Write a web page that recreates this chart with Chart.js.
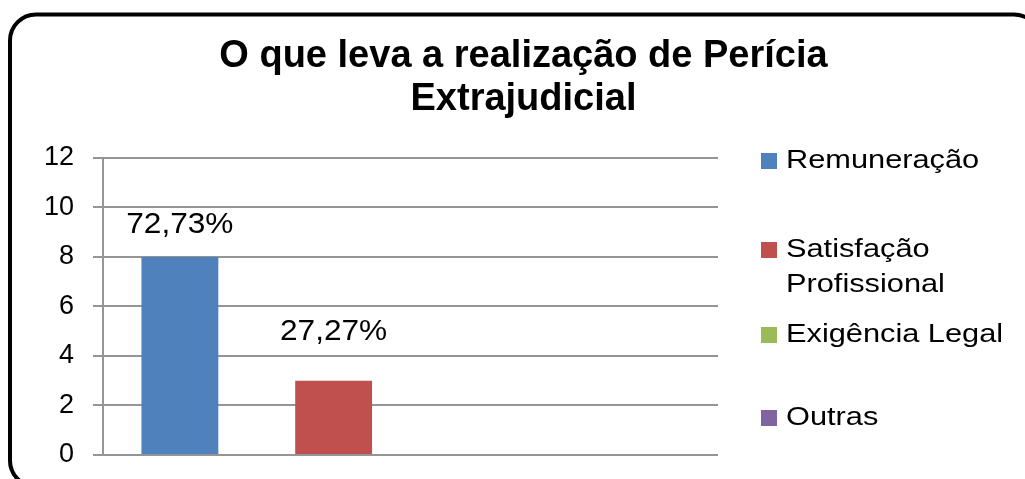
<!DOCTYPE html>
<html>
<head>
<meta charset="utf-8">
<script src="https://cdn.jsdelivr.net/npm/chart.js@4"></script>
<style>
  html, body { margin: 0; padding: 0; background: #ffffff; }
  #wrap { position: relative; width: 1025px; height: 479px; }
</style>
</head>
<body>
<div id="wrap"><canvas id="chart"></canvas></div>
<script>
// Chart data
const categories = ['Remuneração', 'Satisfação Profissional', 'Exigência Legal', 'Outras'];
const legendLines = [['Remuneração'], ['Satisfação', 'Profissional'], ['Exigência Legal'], ['Outras']];
const counts = [8, 3, 0, 0];
const barColors = ['#4F81BD', '#C0504D', '#9BBB59', '#8064A2'];
const yTicks = [0, 2, 4, 6, 8, 10, 12];

const total = counts.reduce((a, b) => a + b, 0);
const FONT = '"Liberation Sans", Arial, sans-serif';

// rounded frame round the whole chart
const framePlugin = {
    id: 'frame',
    beforeDraw(chart) {
        const ctx = chart.ctx;
        ctx.save();
        ctx.fillStyle = '#ffffff';
        ctx.fillRect(0, 0, chart.width, chart.height);
        ctx.beginPath();
        ctx.roundRect(10, 14.5, 1030, 472, 26);
        ctx.lineWidth = 4;
        ctx.strokeStyle = '#000000';
        ctx.stroke();
        ctx.restore();
    }
};

// percentage labels above the bars
const valueLabels = {
    id: 'valueLabels',
    afterDatasetsDraw(chart, args, opts) {
        const ctx = chart.ctx;
        const meta = chart.getDatasetMeta(0);
        ctx.save();
        ctx.font = '29px ' + FONT;
        ctx.fillStyle = '#000000';
        ctx.textAlign = 'center';
        ctx.textBaseline = 'middle';
        meta.data.forEach((bar, i) => {
            const v = counts[i];
            if (!v) return;
            const txt = (v / total * 100).toFixed(2).replace('.', ',') + '%';
            ctx.save();
            ctx.translate(bar.x, bar.y - opts.offsets[i]);
            ctx.scale(1.09, 1);
            ctx.fillText(txt, 0, 0);
            ctx.restore();
        });
        ctx.restore();
    }
};

// Excel style legend on the right
const sideLegend = {
    id: 'sideLegend',
    afterDraw(chart, args, opts) {
        const ctx = chart.ctx;
        ctx.save();
        ctx.font = '25px ' + FONT;
        ctx.textBaseline = 'middle';
        ctx.textAlign = 'left';
        legendLines.forEach((lines, i) => {
            const y = opts.rows[i];
            ctx.fillStyle = barColors[i];
            ctx.fillRect(opts.x, y - 8, 16, 16);
            ctx.fillStyle = '#000000';
            lines.forEach((line, j) => {
                ctx.save();
                ctx.translate(opts.x + 25, y + j * 35);
                ctx.scale(1.23, 1);
                ctx.fillText(line, 0, 0);
                ctx.restore();
            });
        });
        ctx.restore();
    }
};

new Chart(document.getElementById('chart'), {
    type: 'bar',
    data: {
        labels: categories,
        datasets: [{
            label: 'Motivo',
            data: counts,
            backgroundColor: barColors,
            borderWidth: 0,
            barPercentage: 0.5,
            categoryPercentage: 1
        }]
    },
    options: {
        responsive: true,
        maintainAspectRatio: false,
        animation: false,
        layout: {
            padding: { top: 0, left: 22, right: 0, bottom: 24 }
        },
        scales: {
            x: {
                display: false
            },
            y: {
                min: 0,
                max: 12,
                afterBuildTicks(scale) {
                    scale.ticks = yTicks.map(v => ({ value: v }));
                },
                afterFit(scale) {
                    scale.width = 81;
                    // the label padding would otherwise push the plot up
                    scale.paddingTop = 0;
                    scale.paddingBottom = 0;
                },
                grid: {
                    color: '#959595',
                    lineWidth: 2,
                    tickLength: 10
                },
                border: { color: '#959595', width: 2 },
                ticks: {
                    color: '#000000',
                    padding: 19,
                    font: { family: FONT, size: 27 }
                }
            },
            // empty right axis: keeps room for the legend
            legendSpace: {
                position: 'right',
                min: 0,
                max: 12,
                grid: { display: false },
                border: { display: false },
                ticks: { display: false },
                afterFit(scale) {
                    scale.width = 307;
                    scale.paddingTop = 0;
                    scale.paddingBottom = 0;
                }
            }
        },
        plugins: {
            legend: { display: false },
            tooltip: { enabled: false },
            title: {
                display: true,
                text: ['O que leva a realização de Perícia', 'Extrajudicial'],
                color: '#000000',
                font: { family: FONT, size: 38, weight: 'bold', lineHeight: 1.13 },
                padding: { top: 35.5, bottom: 36.5 }
            },
            valueLabels: { offsets: [32, 49, 0, 0] },
            sideLegend: { x: 761, rows: [161, 250, 335, 418] }
        }
    },
    plugins: [framePlugin, valueLabels, sideLegend]
});
</script>
</body>
</html>
